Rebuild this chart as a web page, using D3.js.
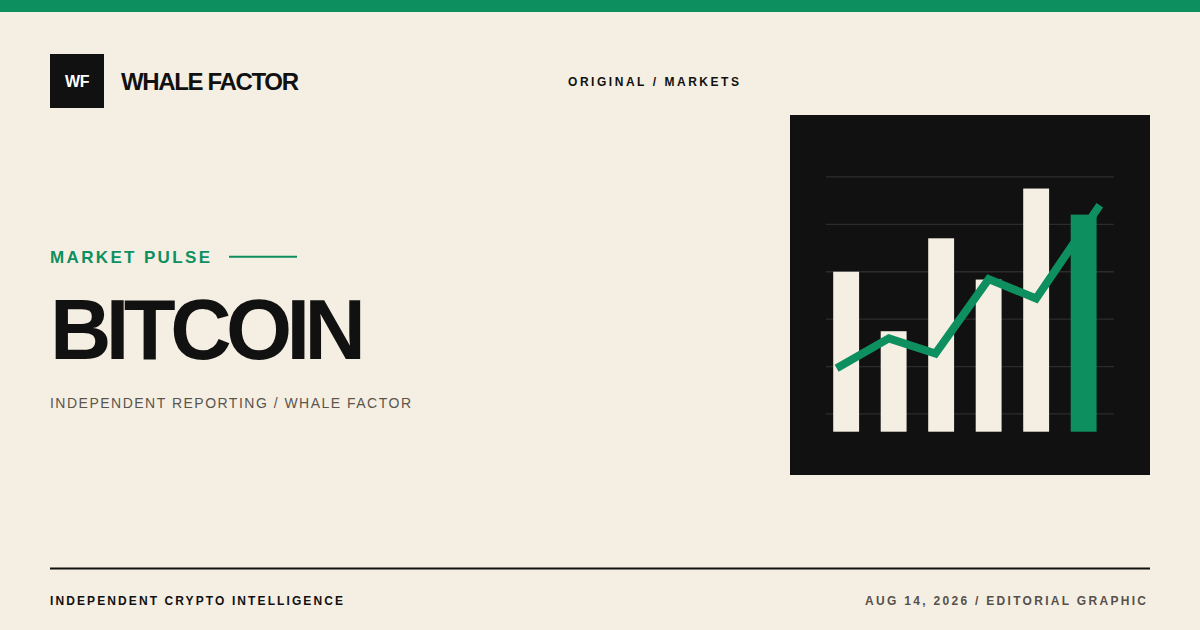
<!DOCTYPE html>
<html>
<head>
<meta charset="utf-8">
<script src="https://cdn.jsdelivr.net/npm/d3@7"></script>
<style>
  html, body { margin: 0; padding: 0; background: #f5efe3; }
  svg { display: block; }
  text { font-family: "Liberation Sans", Arial, Helvetica, sans-serif; }
</style>
</head>
<body>
<svg id="card"></svg>
<script>
// Chart data (index units)
const periods = ["P1", "P2", "P3", "P4", "P5", "P6"];
const barValues = [33.75, 21.2, 40.8, 32.1, 51.3, 45.8];
const linePositions = [-0.2, 0.9, 1.88, 3, 4, 5.34];
const lineValues = [13.4, 19.7, 16.5, 32.2, 28.1, 47.8];
const gridValues = [3.75, 13.75, 23.75, 33.75, 43.75, 53.75];
const highlightIndex = 5;

// Page texts
const brandName = "WHALE FACTOR";
const brandMark = "WF";
const section = "ORIGINAL / MARKETS";
const kicker = "MARKET PULSE";
const headline = "BITCOIN";
const byline = "INDEPENDENT REPORTING / WHALE FACTOR";
const footerLeft = "INDEPENDENT CRYPTO INTELLIGENCE";
const footerRight = "AUG 14, 2026 / EDITORIAL GRAPHIC";

const width = 1200;
const height = 630;
const green = "#0e8f60";
const ink = "#111111";
const cream = "#f5efe3";

const svg = d3.select("#card")
  .attr("width", width)
  .attr("height", height)
  .attr("viewBox", `0 0 ${width} ${height}`);

// Background and top band
svg.append("rect").attr("width", width).attr("height", height).attr("fill", cream);
svg.append("rect").attr("width", width).attr("height", 12).attr("fill", green);

// Brand block
svg.append("rect")
  .attr("x", 50).attr("y", 54)
  .attr("width", 54).attr("height", 54)
  .attr("fill", ink);

svg.append("text")
  .attr("x", 77).attr("y", 87.3)
  .attr("text-anchor", "middle")
  .style("font-size", "16px")
  .style("font-weight", 700)
  .style("letter-spacing", "-0.5px")
  .attr("fill", "#ffffff")
  .text(brandMark);

svg.append("text")
  .attr("x", 121).attr("y", 90)
  .attr("textLength", 178)
  .attr("lengthAdjust", "spacing")
  .style("font-size", "24px")
  .style("font-weight", 700)
  .attr("fill", ink)
  .text(brandName);

svg.append("text")
  .attr("x", 568).attr("y", 85.7)
  .attr("textLength", 171)
  .attr("lengthAdjust", "spacing")
  .style("font-size", "12px")
  .style("font-weight", 700)
  .attr("fill", ink)
  .text(section);

// Headline block
svg.append("text")
  .attr("x", 50).attr("y", 263.3)
  .attr("textLength", 160)
  .attr("lengthAdjust", "spacing")
  .style("font-size", "17px")
  .style("font-weight", 700)
  .attr("fill", green)
  .text(kicker);

svg.append("line")
  .attr("x1", 229).attr("x2", 297)
  .attr("y1", 256.7).attr("y2", 256.7)
  .attr("stroke", green)
  .attr("stroke-width", 2);

svg.append("text")
  .attr("x", 50).attr("y", 359)
  .attr("textLength", 316)
  .attr("lengthAdjust", "spacing")
  .style("font-size", "85px")
  .style("font-weight", 700)
  .attr("fill", ink)
  .text(headline);

svg.append("text")
  .attr("x", 50).attr("y", 407.7)
  .attr("textLength", 361)
  .attr("lengthAdjust", "spacing")
  .style("font-size", "14px")
  .attr("fill", "#5a554d")
  .text(byline);

// Footer
svg.append("line")
  .attr("x1", 50).attr("x2", 1150)
  .attr("y1", 568.5).attr("y2", 568.5)
  .attr("stroke", ink)
  .attr("stroke-width", 2);

svg.append("text")
  .attr("x", 50).attr("y", 604.5)
  .attr("textLength", 293)
  .attr("lengthAdjust", "spacing")
  .style("font-size", "12px")
  .style("font-weight", 700)
  .attr("fill", ink)
  .text(footerLeft);

svg.append("text")
  .attr("x", 1146).attr("y", 604.8)
  .attr("text-anchor", "end")
  .attr("textLength", 281)
  .attr("lengthAdjust", "spacing")
  .style("font-size", "12px")
  .style("font-weight", 700)
  .attr("fill", "#55514a")
  .text(footerRight);

// Chart panel
const panel = svg.append("g").attr("transform", "translate(790,115)");
const panelSize = 360;

panel.append("rect")
  .attr("width", panelSize).attr("height", panelSize)
  .attr("fill", ink);

const baseline = 316.7;
const y = d3.scaleLinear().domain([0, 60]).range([baseline, baseline - 60 * 4.74]);

const x = d3.scaleBand()
  .domain(periods)
  .range([32.4, 317.4])
  .paddingInner(0.455)
  .paddingOuter(0.2275);

const xLine = d3.scaleLinear()
  .domain([0, periods.length - 1])
  .range([x(periods[0]) + x.bandwidth() / 2, x(periods[periods.length - 1]) + x.bandwidth() / 2]);

// Gridlines
panel.append("g")
  .selectAll("line")
  .data(gridValues)
  .join("line")
  .attr("x1", 36).attr("x2", 324)
  .attr("y1", d => y(d)).attr("y2", d => y(d))
  .attr("stroke", "#2c2c2c")
  .attr("stroke-width", 1.3);

// Bars
panel.append("g")
  .selectAll("rect")
  .data(barValues)
  .join("rect")
  .attr("x", (d, i) => x(periods[i]))
  .attr("y", d => y(d))
  .attr("width", x.bandwidth())
  .attr("height", d => y(0) - y(d))
  .attr("fill", (d, i) => i === highlightIndex ? green : cream);

// Trend line
const line = d3.line()
  .x((d, i) => xLine(linePositions[i]))
  .y(d => y(d));

panel.append("path")
  .datum(lineValues)
  .attr("d", line)
  .attr("fill", "none")
  .attr("stroke", green)
  .attr("stroke-width", 8)
  .attr("stroke-linejoin", "miter")
  .attr("stroke-linecap", "butt");
</script>
</body>
</html>
